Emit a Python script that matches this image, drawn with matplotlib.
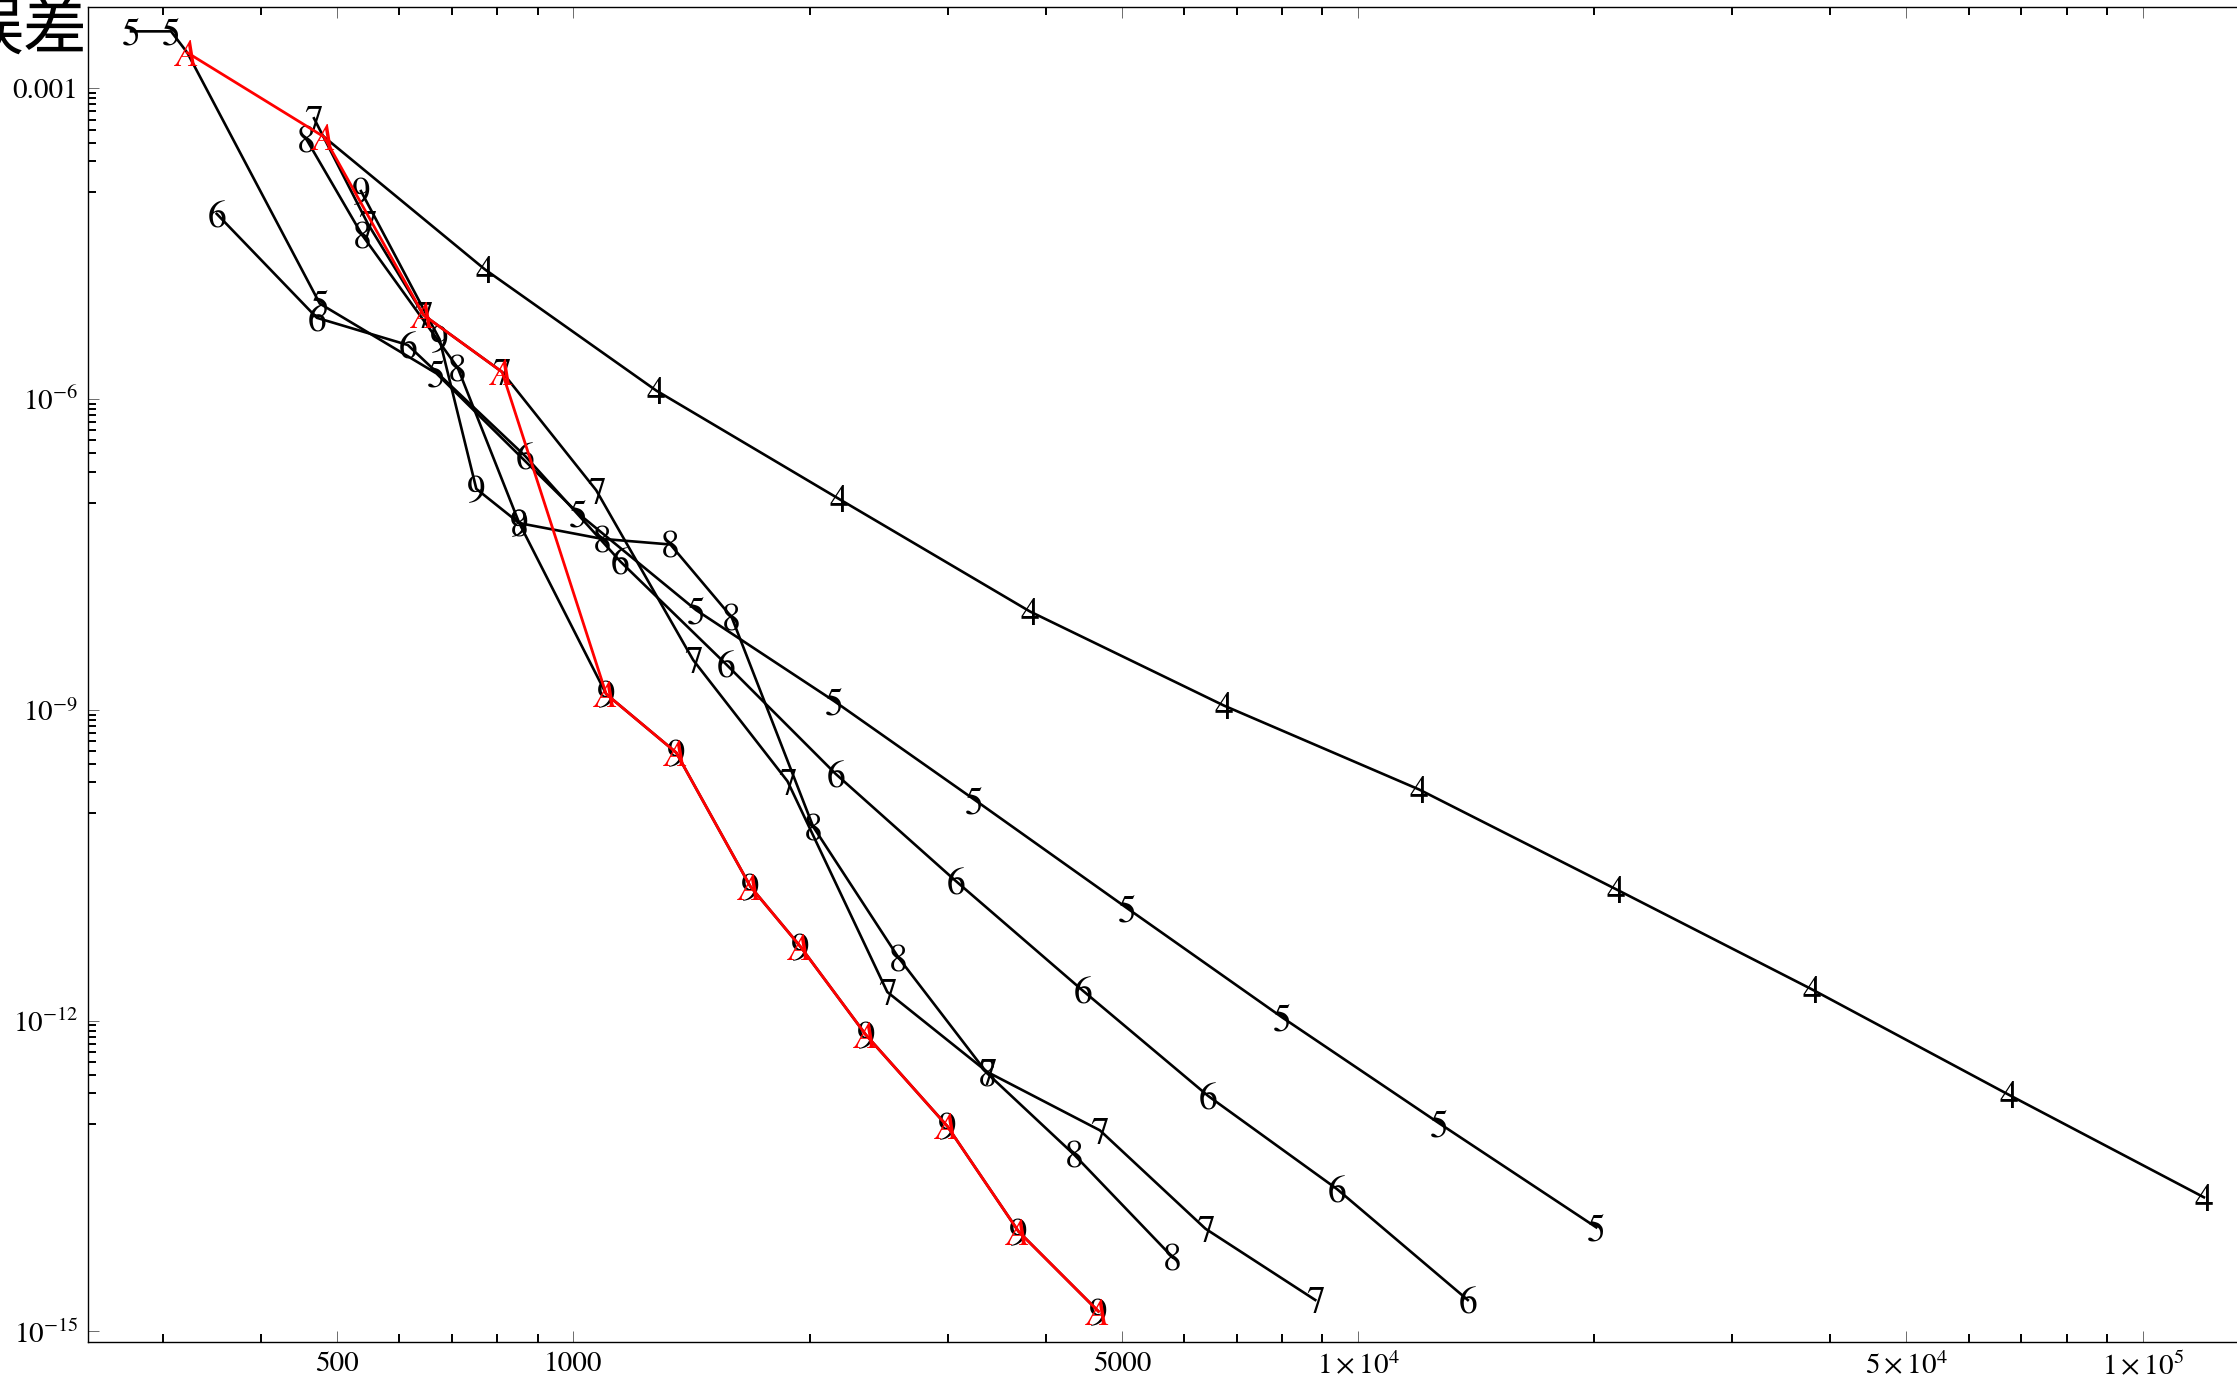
import numpy as np
import matplotlib.pyplot as plt
from matplotlib.ticker import FixedLocator, FixedFormatter, NullFormatter

plt.rcParams['font.family'] = ['STIXGeneral', 'DejaVu Serif']
plt.rcParams['mathtext.fontset'] = 'stix'

# error vs. number of evaluations, one series per order
n4 = [481, 771, 1275, 2179, 3818, 6747, 11970, 21340, 37860, 67470, 119700]
e4 = [3.40e-4, 1.79e-5, 1.21e-6, 1.09e-7, 8.91e-9, 1.10e-9, 1.70e-10,
      1.85e-11, 2.01e-12, 1.93e-13, 1.97e-14]

n5 = [273, 307, 322, 475, 669, 1013, 1433, 2151, 3243, 5076, 8010, 12690, 20120]
e5 = [3.55e-3, 3.55e-3, 2.21e-3, 8.36e-6, 1.77e-6, 7.93e-8, 9.20e-9, 1.21e-9,
      1.36e-10, 1.22e-11, 1.07e-12, 1.02e-13, 1.01e-14]

n6 = [351, 471, 615, 868, 1148, 1565, 2160, 3071, 4458, 6444, 9392, 13800]
e6 = [6.15e-5, 6.09e-6, 3.33e-6, 2.82e-7, 2.70e-8, 2.76e-9, 2.40e-10,
      2.23e-11, 1.95e-12, 1.87e-13, 2.38e-14, 2.01e-15]

n7 = [467, 547, 644, 811, 1069, 1421, 1874, 2512, 3368, 4688, 6390, 8820]
e7 = [5.14e-4, 4.93e-5, 6.49e-6, 1.83e-6, 1.32e-7, 3.03e-9, 2.05e-10,
      1.89e-12, 3.20e-13, 8.73e-14, 9.80e-15, 2.01e-15]

n8 = [457, 538, 712, 853, 1087, 1329, 1591, 2021, 2597, 3368, 4346, 5802]
e8 = [3.20e-4, 3.83e-5, 2.01e-6, 6.35e-8, 4.48e-8, 3.95e-8, 7.85e-9,
      7.45e-11, 4.04e-12, 3.10e-13, 5.09e-14, 5.20e-15]

n9 = [536, 675, 752, 853, 1101, 1352, 1681, 1946, 2359, 2995, 3693, 4668]
e9 = [1.02e-4, 3.79e-6, 1.36e-7, 6.35e-8, 1.42e-9, 3.87e-10, 1.97e-11,
      5.20e-12, 7.29e-13, 9.59e-14, 9.20e-15, 1.56e-15]

# adaptive choice (red)
nA = [322, 481, 644, 811, 1101, 1352, 1681, 1946, 2359, 2995, 3693, 4668]
eA = [2.21e-3, 3.40e-4, 6.49e-6, 1.83e-6, 1.42e-9, 3.87e-10, 1.97e-11,
      5.20e-12, 7.29e-13, 9.59e-14, 9.20e-15, 1.56e-15]

series = {"4": (n4, e4), "5": (n5, e5), "6": (n6, e6),
          "7": (n7, e7), "8": (n8, e8), "9": (n9, e9)}
hidden = {("4", 0), ("5", 2)}

x_major = [500, 1000, 5000, 1e4, 5e4, 1e5]
x_labels = ["500", "1000", "5000", r"$1\times10^{4}$", r"$5\times10^{4}$", r"$1\times10^{5}$"]
y_major = [1e-3, 1e-6, 1e-9, 1e-12, 1e-15]
y_labels = ["0.001", r"$10^{-6}$", r"$10^{-9}$", r"$10^{-12}$", r"$10^{-15}$"]

fig = plt.figure(figsize=(22.37, 13.84), dpi=100)
ax = fig.add_axes([88 / 2237, 1 - 1342 / 1384, 1 - 88 / 2237, (1342 - 7) / 1384])
ax.set_xscale('log')
ax.set_yscale('log')

for name, (n, e) in series.items():
    ax.plot(n, e, color='black', lw=1.9, zorder=2)
    for i, (xi, yi) in enumerate(zip(n, e)):
        if (name, i) in hidden:
            continue
        ax.text(xi, yi, name, ha='center', va='center_baseline', fontsize=27,
                color='black', zorder=3)

ax.plot(nA, eA, color='#ff0000', lw=2.0, zorder=4)
for xi, yi in zip(nA, eA):
    ax.text(xi, yi, "A", ha='center', va='center_baseline', fontsize=27,
            color='#ff0000', style='italic', zorder=5)

ax.set_xlim(240.6, 131900)
ax.set_ylim(7.9e-16, 6.1e-3)

x_minor = [k * 10 ** d for d in (2, 3, 4) for k in range(2, 10)
           if k * 10 ** d not in x_major and 240 < k * 10 ** d < 132000]
y_minor = [m * k / 10 for m in y_major[:-1] for k in range(1, 10)]

ax.xaxis.set_major_locator(FixedLocator(x_major))
ax.xaxis.set_major_formatter(FixedFormatter(x_labels))
ax.xaxis.set_minor_locator(FixedLocator(x_minor))
ax.xaxis.set_minor_formatter(NullFormatter())
ax.yaxis.set_major_locator(FixedLocator(y_major))
ax.yaxis.set_major_formatter(FixedFormatter(y_labels))
ax.yaxis.set_minor_locator(FixedLocator(y_minor))
ax.yaxis.set_minor_formatter(NullFormatter())

ax.tick_params(which='both', direction='in', top=True, right=False,
               labeltop=False, labelsize=21, pad=7)
ax.tick_params(which='major', length=7.7, width=0.6, color='#555555')
ax.tick_params(which='minor', length=5.8, width=1.4, color='black')

for s in ('left', 'bottom', 'top'):
    ax.spines[s].set_linewidth(1.0)
ax.spines['right'].set_visible(False)

fig.text(87 / 2237, 1 - 31 / 1384, "误差", ha='right', va='center',
         fontsize=46, family=['Noto Sans CJK SC', 'DejaVu Sans'])

fig.savefig("out.png", dpi=100)
